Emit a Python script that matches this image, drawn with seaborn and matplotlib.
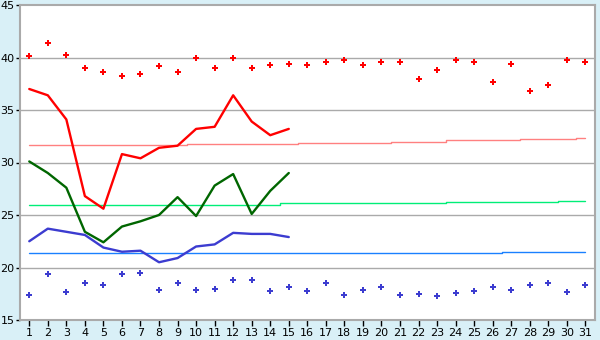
import matplotlib
matplotlib.use("Agg")
import matplotlib.pyplot as plt
import seaborn as sns
import pandas as pd
import numpy as np

days = list(range(1, 32))
record_high = [40.1, 41.4, 40.2, 39.0, 38.6, 38.2, 38.4, 39.2, 38.6, 40.0,
               39.0, 40.0, 39.0, 39.3, 39.4, 39.3, 39.6, 39.8, 39.3, 39.6,
               39.6, 38.0, 38.8, 39.8, 39.6, 37.7, 39.4, 36.8, 37.4, 39.8, 39.6]
record_low = [17.4, 19.4, 17.7, 18.5, 18.3, 19.4, 19.5, 17.9, 18.5, 17.9,
              18.0, 18.8, 18.8, 17.8, 18.1, 17.8, 18.5, 17.4, 17.9, 18.1,
              17.4, 17.5, 17.3, 17.6, 17.8, 18.1, 17.9, 18.3, 18.5, 17.7, 18.3]
obs_days = list(range(1, 16))
obs_max = [37.0, 36.4, 34.1, 26.8, 25.6, 30.8, 30.4, 31.4, 31.6, 33.2,
           33.4, 36.4, 33.9, 32.6, 33.2]
obs_mean = [30.1, 29.0, 27.6, 23.4, 22.4, 23.9, 24.4, 25.0, 26.7, 24.9,
            27.8, 28.9, 25.1, 27.3, 29.0]
obs_min = [22.5, 23.7, 23.4, 23.1, 21.9, 21.5, 21.6, 20.5, 20.9, 22.0,
           22.2, 23.3, 23.2, 23.2, 22.9]
normal_max = [31.7] * 9 + [31.8] * 6 + [31.9] * 5 + [32.0] * 3 + [32.1] * 4 + [32.2] * 3 + [32.3]
normal_mean = [26.0] * 14 + [26.1] * 9 + [26.2] * 6 + [26.3] * 2
normal_min = [21.4] * 26 + [21.5] * 5
yticks = [15, 20, 25, 30, 35, 40, 45]

sns.set_theme(style="white")
plt.rcParams['font.family'] = ['DejaVu Sans']

bg = "#d9f0f7"
fig = plt.figure(figsize=(6, 3.4), dpi=100, facecolor=bg)
ax = fig.add_axes([20/600, 20/340, 575/600, 315/340])
ax.set_facecolor("white")

full = pd.DataFrame({"day": days, "rh": record_high, "rl": record_low,
                     "nmax": normal_max, "nmean": normal_mean, "nmin": normal_min})
obs = pd.DataFrame({"day": obs_days, "mx": obs_max, "mn": obs_mean, "lo": obs_min})

for col, c in [("nmax", "#ff8080"), ("nmean", "#00ee77"), ("nmin", "#1a80ff")]:
    sns.lineplot(data=full, x="day", y=col, ax=ax, color=c, linewidth=1.0,
                 drawstyle="steps-mid", zorder=3)

sns.lineplot(data=obs, x="day", y="mx", ax=ax, color="#ff0000", linewidth=1.7, zorder=4)
sns.lineplot(data=obs, x="day", y="mn", ax=ax, color="#006600", linewidth=1.7, zorder=4)
sns.lineplot(data=obs, x="day", y="lo", ax=ax, color="#3c3cd0", linewidth=1.7, zorder=4)

sns.scatterplot(data=full, x="day", y="rh", ax=ax, color="#ff0000", marker="P",
                s=20, linewidth=0, zorder=5)
sns.scatterplot(data=full, x="day", y="rl", ax=ax, color="#3c3cd0", marker="P",
                s=17, linewidth=0, zorder=5)

ax.set_xlim(0.5, 31.52)
ax.set_ylim(15, 45)
ax.set_xticks(days)
ax.set_xticklabels([str(d) for d in days])
ax.set_yticks(yticks)
ax.set_yticklabels([str(v) for v in yticks])
ax.set_xlabel("")
ax.set_ylabel("")
for y in yticks[1:-1]:
    ax.axhline(y, color="#aaaaaa", linewidth=1.0, zorder=1)
for s in ax.spines.values():
    s.set_color("#aaaaaa")
    s.set_linewidth(1.5)
ax.tick_params(axis="both", which="both", direction="out", color="black",
               labelsize=8, labelcolor="black", pad=1.5)
ax.tick_params(axis="x", length=4, width=1)
ax.tick_params(axis="y", length=3, width=1, pad=1)
ax.tick_params(left=True, bottom=True)

fig.savefig("out.png", dpi=100, facecolor=bg)
